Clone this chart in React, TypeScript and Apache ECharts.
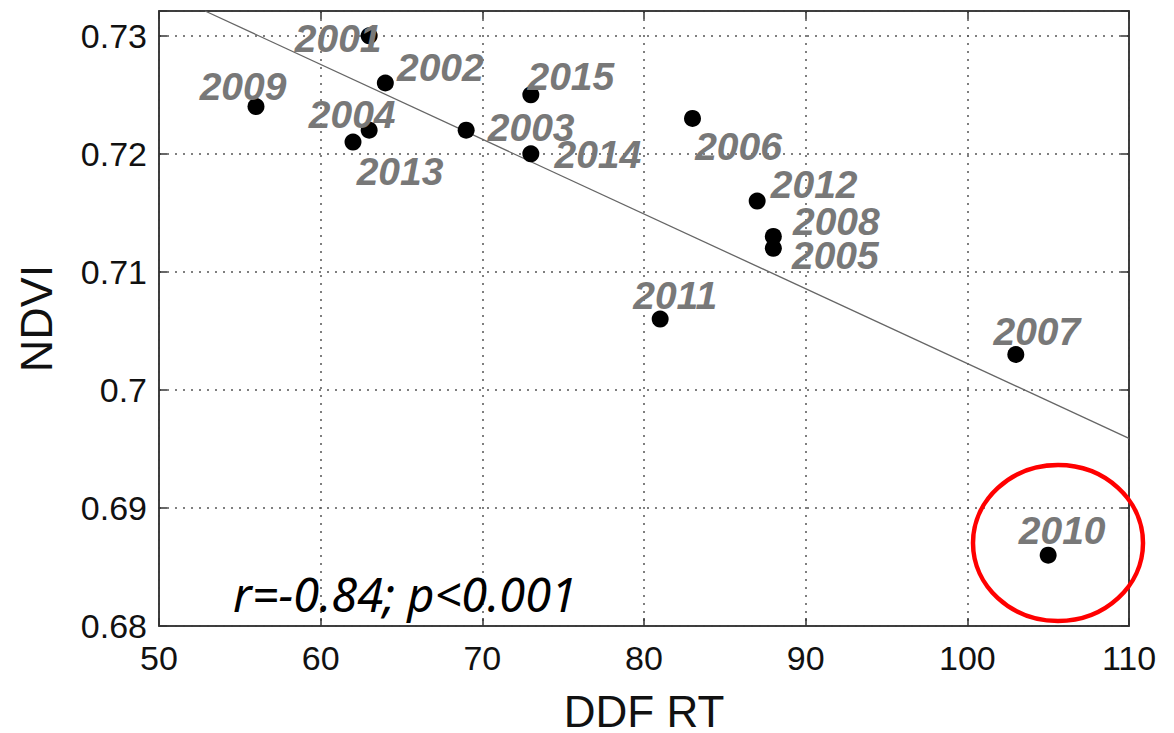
import React, { useEffect, useRef } from "react";
import * as echarts from "echarts";

const years = ["2001", "2002", "2003", "2004", "2005", "2006", "2007", "2008", "2009", "2010", "2011", "2012", "2013", "2014", "2015"];
const ddfRT = [63, 64, 69, 63, 88, 83, 103, 88, 56, 105, 81, 87, 62, 73, 73];
const ndvi = [0.730, 0.726, 0.722, 0.722, 0.712, 0.723, 0.703, 0.713, 0.724, 0.686, 0.706, 0.716, 0.721, 0.720, 0.725];

// label placement (pixel offsets from each dot), layout only
const labelOffsets: Record<string, [number, number]> = {
  "2001": [-31, 3],
  "2002": [55, -16],
  "2003": [65, -3],
  "2004": [-17, -16],
  "2005": [62, 7],
  "2006": [46, 28],
  "2007": [21, -23],
  "2008": [63, -15],
  "2009": [-13, -20],
  "2010": [14, -25],
  "2011": [15, -24],
  "2012": [57, -17],
  "2013": [47, 29],
  "2014": [67, 1],
  "2015": [40, -18],
};

const trendX = [52.85, 110];
const trendY = [0.7321, 0.6959];

const xMin = 50, xMax = 110, xStep = 10;
const yMin = 0.68, yMax = 0.7321, yStep = 0.01;

const statText = "r=-0.84; p<0.001";

export default function App() {
  const ref = useRef<HTMLDivElement>(null);
  useEffect(() => {
    document.body.style.margin = "0";
    const chart = echarts.init(ref.current!, null, { renderer: "svg" });
    const tickFont = { fontFamily: "Liberation Sans", fontSize: 34, color: "#111" };
    const gridLine = { show: true, lineStyle: { type: [2, 6] as any, width: 1.5, color: "#555" } };
    const axisLine = { show: true, lineStyle: { color: "#333", width: 1.5 } };
    const yFmt = (v: number) => (v > yMax - 0.0015 ? "" : String(parseFloat(v.toFixed(2))));
    chart.setOption({
      animation: false,
      backgroundColor: "#fff",
      grid: {
        left: 159, right: 45, top: 11, bottom: 107, show: true, borderColor: "#333", borderWidth: 1.5,
        containLabel: false, outerBoundsMode: "none",
      },
      xAxis: [
        {
          type: "value", min: xMin, max: xMax, interval: xStep, position: "bottom",
          name: "DDF RT", nameLocation: "middle", nameGap: 67,
          nameTextStyle: { fontFamily: "Liberation Sans", fontSize: 44, lineHeight: 36, color: "#111" },
          axisLine, axisTick: { show: true, inside: true, length: 8, lineStyle: { color: "#333", width: 1.5 } },
          axisLabel: { ...tickFont, margin: 15 },
          splitLine: gridLine,
        },
        {
          type: "value", min: xMin, max: xMax, interval: xStep, position: "top",
          axisLine, axisTick: { show: true, inside: true, length: 8, lineStyle: { color: "#333", width: 1.5 } },
          axisLabel: { show: false }, splitLine: { show: false },
        },
      ],
      yAxis: [
        {
          type: "value", min: yMin, max: yMax, interval: yStep, position: "left",
          name: "NDVI", nameLocation: "middle", nameGap: 100,
          nameTextStyle: { fontFamily: "Liberation Sans", fontSize: 45, color: "#111" },
          axisLine, axisTick: { show: true, inside: true, length: 8, lineStyle: { color: "#333", width: 1.5 } },
          axisLabel: { ...tickFont, margin: 12, formatter: yFmt },
          splitLine: gridLine,
        },
        {
          type: "value", min: yMin, max: yMax, interval: yStep, position: "right",
          axisLine, axisTick: { show: true, inside: true, length: 8, lineStyle: { color: "#333", width: 1.5 } },
          axisLabel: { show: false }, splitLine: { show: false },
        },
      ],
      series: [
        {
          type: "line",
          data: trendX.map((x, i) => [x, trendY[i]]),
          symbol: "none",
          lineStyle: { color: "#666", width: 1.3 },
          z: 1,
        },
        {
          type: "scatter",
          symbol: "circle",
          symbolSize: 17,
          itemStyle: { color: "#000", opacity: 1 },
          z: 3,
          data: years.map((yr, i) => ({
            value: [ddfRT[i], ndvi[i]],
            name: yr,
            label: {
              show: true,
              position: "inside",
              offset: labelOffsets[yr],
              formatter: yr,
              fontFamily: "Liberation Sans",
              fontWeight: "bold",
              fontStyle: "italic",
              fontSize: 39,
              lineHeight: 28,
              color: "#787878",
              align: "center",
              verticalAlign: "middle",
            },
          })),
        },
      ],
      graphic: [
        {
          type: "text",
          x: 233,
          y: 594,
          style: {
            text: statText,
            font: "italic 47px 'Noto Sans'",
            fill: "#000",
            textAlign: "left",
            textVerticalAlign: "middle",
          },
          z: 10,
        },
        {
          type: "ellipse",
          shape: { cx: 1058, cy: 543, rx: 85, ry: 78 },
          style: { fill: "none", stroke: "#ff0000", lineWidth: 4.5 },
          z: 10,
        },
      ],
    });
    return () => chart.dispose();
  }, []);
  return <div ref={ref} style={{ width: 1174, height: 733 }} />;
}
